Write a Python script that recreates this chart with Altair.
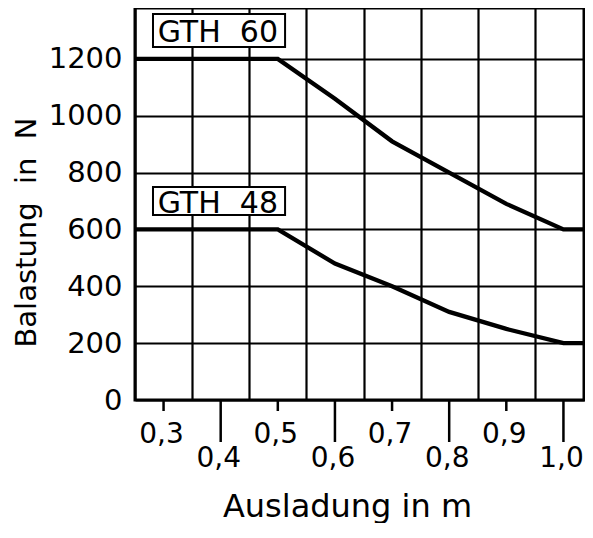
import altair as alt
import pandas as pd

# ---- data ----
x_vals = [0.25, 0.5, 0.6, 0.7, 0.8, 0.9, 1.0, 1.05]
gth60 = [1200, 1200, 1060, 910, 800, 690, 600, 600]
gth48 = [600, 600, 480, 400, 310, 250, 200, 200]
series_names = ["GTH\u00a0\u00a060", "GTH\u00a0\u00a048"]

tick_vals = [0.3, 0.4, 0.5, 0.6, 0.7, 0.8, 0.9, 1.0]
tick_labels = ["0,3", "0,4", "0,5", "0,6", "0,7", "0,8", "0,9", "1,0"]
tick_rows = ["upper", "lower", "upper", "lower", "upper", "lower", "upper", "lower"]
grid_x = [0.25, 0.35, 0.45, 0.55, 0.65, 0.75, 0.85, 0.95, 1.05]
y_ticks = [0, 200, 400, 600, 800, 1000, 1200]

# label boxes (annotation placement in data units)
box_x1 = [0.2815, 0.2815]
box_x2 = [0.5127, 0.5127]
box_y1 = [1242, 651]
box_y2 = [1358, 749]
text_x = [0.395, 0.395]
text_y = [1259, 658]

# layout: the page is only 593 px wide, so the plot is cut at the right edge
PX_PER_UNIT = 571.25
W, H = 449, 392
X_MAX = 0.25 + W / PX_PER_UNIT
FONT = "DejaVu Sans"

rows = []
for name, ys in zip(["GTH 60", "GTH 48"], [gth60, gth48]):
    for xv, yv in zip(x_vals, ys):
        rows.append({"series": name, "x": xv, "y": yv})
df = pd.DataFrame(rows)

ann = pd.DataFrame({"name": series_names, "x": box_x1, "x2": box_x2,
                    "y": box_y1, "y2": box_y2, "tx": text_x, "ty": text_y})
ticks_df = pd.DataFrame({"x": tick_vals, "label": tick_labels, "row": tick_rows})

xscale = alt.Scale(domain=[0.25, X_MAX], nice=False, zero=False)
yscale = alt.Scale(domain=[0, 1379], nice=False, zero=True)

x_axis = alt.Axis(values=[g for g in grid_x if g <= X_MAX], grid=True,
                  gridColor="black", gridWidth=2.2,
                  gridOpacity=1, ticks=False, labels=False, domain=False,
                  title="Ausladung in m", titleFont=FONT, titleFontSize=32,
                  titleFontWeight="normal", titleColor="black",
                  titleX=212, titleY=116, titleBaseline="alphabetic",
                  titleAlign="center", titleAnchor="start")
y_axis = alt.Axis(values=y_ticks, grid=True, gridColor="black", gridWidth=2.2,
                  gridOpacity=1, ticks=False, domain=False, format="d",
                  labelFont=FONT, labelFontSize=29, labelColor="black",
                  labelPadding=13,
                  title="Balastung\u00a0\u00a0in\u00a0\u00a0N", titleFont=FONT,
                  titleFontSize=29, titleFontWeight="normal", titleColor="black",
                  titleAngle=270, titleX=-100, titleY=224,
                  titleBaseline="alphabetic", titleAlign="center",
                  titleAnchor="start")

X = alt.X("x:Q", scale=xscale, axis=x_axis)
Y = alt.Y("y:Q", scale=yscale, axis=y_axis)

lines = alt.Chart(df).mark_line(color="black", strokeWidth=4.3, clip=True).encode(
    x=X, y=Y, detail="series:N")

boxes = alt.Chart(ann).mark_rect(fill="white", stroke="black", strokeWidth=2).encode(
    x=X, x2="x2:Q", y=Y, y2="y2:Q")

box_text = alt.Chart(ann).mark_text(font=FONT, fontSize=30, color="black",
                                    align="center", baseline="alphabetic").encode(
    x=alt.X("tx:Q", scale=xscale, axis=x_axis),
    y=alt.Y("ty:Q", scale=yscale, axis=y_axis),
    text="name:N")

up_ticks = alt.Chart(ticks_df).transform_filter("datum.row == 'upper'").mark_rule(
    color="black", strokeWidth=2.5).encode(x=X, y=alt.value(H), y2=alt.value(H + 11))
low_ticks = alt.Chart(ticks_df).transform_filter("datum.row == 'lower'").mark_rule(
    color="black", strokeWidth=2.5).encode(x=X, y=alt.value(H), y2=alt.value(H + 42))

up_labels = alt.Chart(ticks_df).transform_filter("datum.row == 'upper'").mark_text(
    font=FONT, fontSize=28, color="black", align="center", baseline="alphabetic",
    dx=-2).encode(
    x=X, y=alt.value(H + 43), text="label:N")
low_labels = alt.Chart(ticks_df).transform_filter("datum.row == 'lower'").mark_text(
    font=FONT, fontSize=28, color="black", align="center", baseline="alphabetic",
    dx=-2).encode(
    x=X, y=alt.value(H + 67), text="label:N")

chart = alt.layer(lines, boxes, box_text, up_ticks, low_ticks, up_labels, low_labels).properties(
    width=W, height=H,
    autosize=alt.AutoSizeParams(type="none"),
    padding={"left": 127, "top": 0, "right": 1, "bottom": 123},
    background="white",
).configure(font=FONT).configure_view(stroke="black", strokeWidth=3)

chart.save("out.html", embed_options={"renderer": "svg", "actions": False})
